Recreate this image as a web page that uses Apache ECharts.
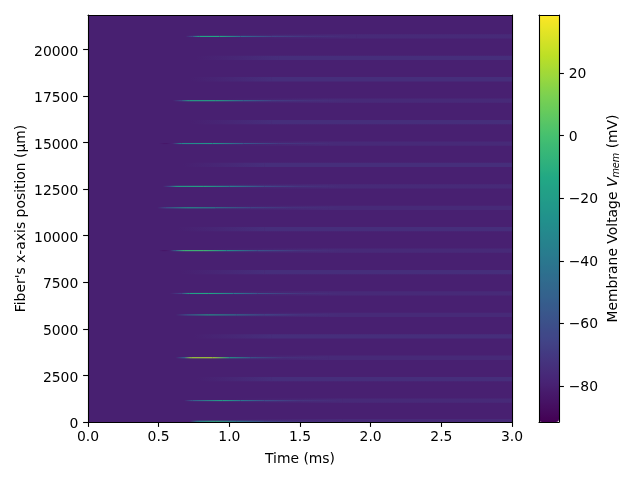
<!DOCTYPE html>
<html lang="en">
<head>
    <meta charset="UTF-8">
    <title>Membrane voltage</title>
    <script src="https://cdn.jsdelivr.net/npm/echarts@6/dist/echarts.min.js"></script>
    <style>
        html, body { margin: 0; padding: 0; background: #fff; }
    </style>
</head>
<body>
<div id="main" style="width:640px;height:480px;"></div>
<script>
    const xTicks = [0, 0.5, 1, 1.5, 2, 2.5, 3];
    const yTicks = [0, 2500, 5000, 7500, 10000, 12500, 15000, 17500, 20000];
    const cbTicks = [-80, -60, -40, -20, 0, 20];

    const restingVm = -80;
    const vmMin = -91.5;
    const vmMax = 38.5;
    const yMax = 21850;
    const tEnd = 3;

    const fiberPos = [40, 1150, 2300, 3450, 4600, 5750, 6900, 8050, 9200, 10350,
        11500, 12650, 13800, 14950, 16100, 17250, 18400, 19550, 20700];

    // slow after-band of every fiber: time it starts, time it is fully up, level reached
    const bandStart = [1.0, 1.0, 0.77, 0.95, 0.74, 0.9, 0.9, 0.65, 0.85, 0.63,
        0.85, 0.85, 0.67, 0.9, 0.72, 0.95, 0.72, 0.76, 1.0];
    const bandFull = [1.8, 1.8, 1.3, 1.7, 1.3, 1.7, 1.7, 1.25, 1.7, 1.25,
        1.7, 1.7, 1.25, 1.7, 1.3, 1.7, 1.3, 1.35, 1.9];
    const bandVm = [-76, -76, -74.5, -76, -74.5, -76, -76, -74.5, -76, -74.5,
        -76, -76, -74.5, -76, -74.5, -76, -74.5, -74.5, -76];

    // fibers with an action potential
    const spikingFibers = [0, 1, 3, 5, 6, 8, 10, 11, 13, 15, 18];
    const spikeTimes = [
        [0.72, 0.78, 0.90, 1.05, 1.25, 1.5, 1.8],
        [0.68, 0.74, 0.95, 1.08, 1.25, 1.5, 1.8],
        [0.62, 0.68, 0.73, 0.88, 1.0, 1.15, 1.38, 1.7],
        [0.62, 0.70, 0.85, 1.05, 1.25, 1.5, 1.8],
        [0.58, 0.66, 0.72, 0.85, 1.03, 1.2, 1.5, 1.8],
        [0.5, 0.54, 0.58, 0.62, 0.68, 0.82, 0.98, 1.2, 1.5, 1.8],
        [0.49, 0.55, 0.7, 0.9, 1.15, 1.45, 1.8],
        [0.53, 0.58, 0.63, 0.82, 1.0, 1.25, 1.5, 1.8],
        [0.5, 0.55, 0.6, 0.66, 0.88, 1.1, 1.35, 1.75],
        [0.6, 0.66, 0.72, 0.9, 1.1, 1.3, 1.55, 1.85],
        [0.69, 0.74, 0.79, 0.93, 1.08, 1.3, 1.55, 1.85]
    ];
    const spikeVm = [
        [-80, -28, -10, -35, -60, -72, -76],
        [-80, -55, -18, -40, -60, -72, -76],
        [-80, -45, 20, 22, -18, -52, -72, -76],
        [-80, -55, -22, -42, -62, -72, -76],
        [-80, -65, -18, -14, -38, -58, -72, -76],
        [-80, -85, -80, -50, -4, -2, -25, -58, -72, -76],
        [-80, -58, -24, -36, -60, -72, -76],
        [-80, -60, -18, -14, -36, -62, -72, -76],
        [-80, -84, -78, -32, -24, -55, -70, -76],
        [-80, -60, -16, -14, -45, -65, -72, -76],
        [-80, -60, -16, -14, -45, -65, -72, -76]
    ];

    const viridis = ['#440154', '#482475', '#414487', '#355f8d', '#2a788e',
        '#21918c', '#22a884', '#44bf70', '#7ad151', '#bddf26', '#fde725'];

    const BAND_H = 230;   // um
    const SPIKE_H = 60;   // um
    const FONT = 'DejaVu Sans';
    const FS = 13.9;

    function vmColor(v) {
        return echarts.color.lerp((v - vmMin) / (vmMax - vmMin), viridis);
    }

    // each item is one piece of a fiber: t0, t1, position, vm at t0, vm at t1
    function pieces(times, vms, pos) {
        const out = [];
        for (let i = 0; i < times.length - 1; i++) {
            out.push([times[i], times[i + 1], pos, vms[i], vms[i + 1]]);
        }
        return out;
    }

    let bandData = [];
    for (let i = 0; i < fiberPos.length; i++) {
        bandData = bandData.concat(pieces(
            [bandStart[i], bandFull[i], tEnd],
            [restingVm, bandVm[i], bandVm[i]],
            fiberPos[i]));
    }
    let spikeData = [];
    for (let i = 0; i < spikingFibers.length; i++) {
        spikeData = spikeData.concat(pieces(spikeTimes[i], spikeVm[i], fiberPos[spikingFibers[i]]));
    }

    function stripRender(height) {
        return function (params, api) {
            const a = api.coord([api.value(0), api.value(2) + height / 2]);
            const b = api.coord([api.value(1), api.value(2) - height / 2]);
            return {
                type: 'rect',
                shape: { x: a[0], y: a[1], width: b[0] - a[0], height: b[1] - a[1] },
                style: {
                    fill: new echarts.graphic.LinearGradient(0, 0, 1, 0, [
                        { offset: 0, color: vmColor(api.value(3)) },
                        { offset: 1, color: vmColor(api.value(4)) }
                    ])
                }
            };
        };
    }

    const tickText = { fontFamily: FONT, fontSize: FS, color: '#000' };
    const line = { lineStyle: { color: '#000', width: 1.1 } };
    // nudge the y labels down onto their ticks
    const yLabelRich = { n: { ...tickText, lineHeight: 19, verticalAlign: 'bottom' } };
    const cbLabelRich = { n: { ...tickText, lineHeight: 17, verticalAlign: 'bottom' } };

    // axis that only gives a frame edge
    function edge(gridIndex, position, extent) {
        return {
            type: 'value', gridIndex: gridIndex, position: position, min: extent[0], max: extent[1], z: 6,
            axisLine: { show: true, onZero: false, lineStyle: line.lineStyle },
            axisTick: { show: false }, axisLabel: { show: false }, splitLine: { show: false }
        };
    }

    const chart = echarts.init(document.getElementById('main'), null, { renderer: 'canvas' });
    chart.setOption({
        animation: false,
        backgroundColor: '#fff',
        grid: [
            { left: 88, top: 15, width: 424, height: 407, outerBoundsMode: 'none', show: true, borderWidth: 0, backgroundColor: vmColor(restingVm) },
            { left: 539, top: 15, width: 20, height: 407, outerBoundsMode: 'none' }
        ],
        visualMap: {
            type: 'continuous', min: vmMin, max: vmMax, seriesIndex: 0, dimension: 3,
            left: 539, top: 15, itemWidth: 20, itemHeight: 407, padding: 0,
            calculable: false, hoverLink: false, realtime: false, text: ['', ''], showLabel: false,
            inRange: { color: viridis }, z: 4
        },
        xAxis: [
            {
                type: 'value', gridIndex: 0, position: 'bottom', min: 0, max: tEnd, z: 6,
                name: 'Time (ms)', nameLocation: 'middle', nameGap: 30, nameTextStyle: tickText,
                axisLine: { show: true, onZero: false, lineStyle: line.lineStyle },
                axisTick: { show: true, length: 4.9, lineStyle: line.lineStyle, customValues: xTicks },
                axisLabel: { margin: 8.5, showMinLabel: true, showMaxLabel: true, customValues: xTicks, formatter: v => v.toFixed(1), ...tickText },
                splitLine: { show: false }
            },
            edge(0, 'top', [0, tEnd]),
            edge(1, 'bottom', [0, 1]),
            edge(1, 'top', [0, 1])
        ],
        yAxis: [
            {
                type: 'value', gridIndex: 0, position: 'left', min: 0, max: yMax, z: 6,
                name: "Fiber's x-axis position (\u00b5m)", nameLocation: 'middle', nameGap: 60, nameMoveOverlap: false, nameTextStyle: tickText,
                axisLine: { show: true, onZero: false, lineStyle: line.lineStyle },
                axisTick: { show: true, length: 4.9, lineStyle: line.lineStyle, customValues: yTicks },
                axisLabel: { margin: 9.7, customValues: yTicks, formatter: v => '{n|' + v + '}', rich: yLabelRich, ...tickText },
                splitLine: { show: false }
            },
            edge(0, 'right', [0, yMax]),
            edge(1, 'left', [vmMin, vmMax]),
            {
                type: 'value', gridIndex: 1, position: 'right', min: vmMin, max: vmMax, z: 6,
                name: '{t|Membrane Voltage }{v|V}{s|mem}{t| (mV)}', nameLocation: 'middle', nameGap: 47, nameMoveOverlap: false, nameRotate: 90,
                nameTextStyle: {
                    rich: {
                        t: { ...tickText },
                        v: { ...tickText, fontStyle: 'italic' },
                        s: { fontFamily: FONT, fontSize: 9.7, color: '#000', fontStyle: 'italic', padding: [5, 0, 0, 0] }
                    }
                },
                axisLine: { show: true, onZero: false, lineStyle: line.lineStyle },
                axisTick: { show: true, length: 4.9, lineStyle: line.lineStyle, customValues: cbTicks },
                axisLabel: { margin: 9.7, customValues: cbTicks, formatter: v => '{n|' + String(v).replace('-', '\u2212') + '}', rich: cbLabelRich, ...tickText },
                splitLine: { show: false }
            }
        ],
        series: [
            { type: 'custom', name: 'band', xAxisIndex: 0, yAxisIndex: 0, clip: true, silent: true, z: 2, renderItem: stripRender(BAND_H), data: bandData },
            { type: 'custom', name: 'spike', xAxisIndex: 0, yAxisIndex: 0, clip: true, silent: true, z: 3, renderItem: stripRender(SPIKE_H), data: spikeData }
        ]
    });
</script>
</body>
</html>
